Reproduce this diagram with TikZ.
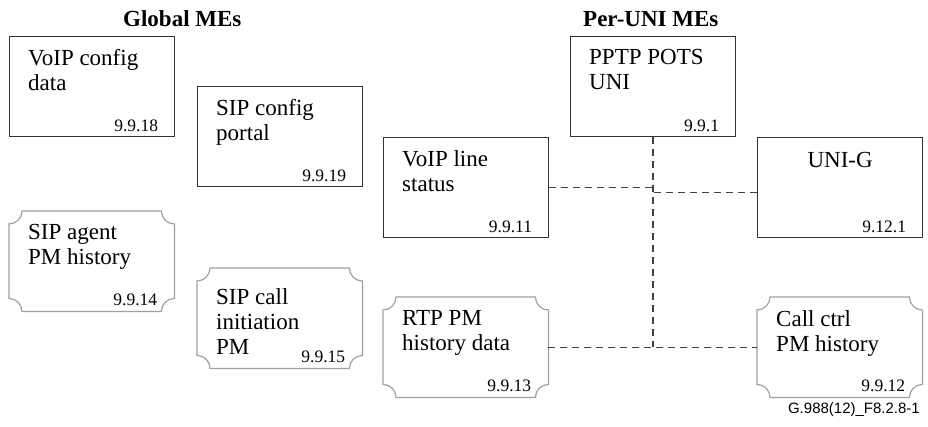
\documentclass[tikz,border=0pt]{standalone}
\usepackage{fontspec}
\setmainfont{Liberation Serif}
\newfontfamily\figfont{Liberation Sans}
\usetikzlibrary{calc}

\definecolor{boxline}{HTML}{333333}
\definecolor{pmline}{HTML}{A0A0A0}
\definecolor{linkline}{HTML}{404040}

\tikzset{
	mebox/.style={rectangle, draw=boxline, line width=1.2pt, anchor=north west,
		minimum width=165pt, minimum height=100pt, inner sep=0pt},
	pmbox/.style={rectangle, draw=none, anchor=north west,
		minimum width=165pt, minimum height=100pt, inner sep=0pt},
	metext/.style={anchor=north west, inner sep=0pt, align=left,
		font=\fontsize{23}{25}\selectfont},
	menum/.style={anchor=base east, inner sep=0pt, font=\fontsize{17.5}{20}\selectfont},
	metitle/.style={anchor=base west, inner sep=0pt, font=\fontsize{23}{26}\selectfont\bfseries},
	link/.style={draw=linkline, line width=1.3pt, dash pattern=on 7pt off 5pt}
}

% text and number inside a box
\newcommand{\melabel}[3]{%
	\node[metext] (#1-t) at ([shift={(19pt,-13pt)}]#1.north west) {#2};
	\node[menum] (#1-n) at ([shift={(-17pt,6pt)}]#1.south east) {#3};
}
% box with rounded-in corners
\newcommand{\pmoutline}[1]{%
	\draw[pmline, line width=1.2pt]
		([xshift=13pt]#1.north west) -- ([xshift=-13pt]#1.north east)
		arc[start angle=180, end angle=270, radius=13pt]
		-- ([yshift=13pt]#1.south east)
		arc[start angle=90, end angle=180, radius=13pt]
		-- ([xshift=13pt]#1.south west)
		arc[start angle=0, end angle=90, radius=13pt]
		-- ([yshift=-13pt]#1.north west)
		arc[start angle=270, end angle=360, radius=13pt] -- cycle;
}

\begin{document}
\begin{tikzpicture}[x=1pt, y=1pt]

	\useasboundingbox (0,0) rectangle (928,-426);

	\node[metitle] (global) at (123,-26) {Global MEs};
	\node[metitle] (peruni) at (583,-26) {Per-UNI MEs};

	% global MEs
	\node[mebox] (vcd) at (9,-36) {};
	\node[mebox] (scp) at (197,-86) {};
	\node[pmbox] (sap) at (9,-211) {};
	\node[pmbox] (sci) at (197,-268) {};

	% per-UNI MEs
	\node[mebox] (pptp) at (570,-36) {};
	\node[mebox] (vls) at (383,-137) {};
	\node[mebox] (unig) at (757,-137) {};
	\node[pmbox] (rtp) at (383,-297) {};
	\node[pmbox] (ccp) at (757,-297) {};

	\pmoutline{sap}
	\pmoutline{sci}
	\pmoutline{rtp}
	\pmoutline{ccp}

	\melabel{vcd}{VoIP config\\data}{9.9.18}
	\melabel{scp}{SIP config\\portal}{9.9.19}
	\melabel{sap}{SIP agent\\PM history}{9.9.14}
	\node[metext] (sci-t) at ([shift={(19pt,-20pt)}]sci.north west) {SIP call\\initiation\\PM};
	\node[menum] (sci-n) at ([shift={(-17pt,6pt)}]sci.south east) {9.9.15};
	\melabel{pptp}{PPTP POTS\\UNI}{9.9.1}
	\melabel{vls}{VoIP line\\status}{9.9.11}
	\node[metext, anchor=north] (unig-t) at ([yshift=-15pt]unig.north) {UNI-G};
	\node[menum] (unig-n) at ([shift={(-17pt,6pt)}]unig.south east) {9.12.1};
	\melabel{rtp}{RTP PM\\history data}{9.9.13}
	\melabel{ccp}{Call ctrl\\PM history}{9.9.12}

	% connectors
	\coordinate (bus) at (pptp.south |- rtp.east);
	\draw[link] (pptp.south) -- (bus);
	\draw[link] (vls.east) -- (vls.east -| pptp.south);
	\draw[link] ([yshift=-5pt]unig.west) -- ([yshift=-5pt]unig.west -| pptp.south);
	\draw[link] (rtp.east) -- (ccp.west);

	\node[anchor=base east, inner sep=0pt, font=\figfont\fontsize{15}{18}\selectfont] (figid) at (920,-413) {G.988(12)\_F8.2.8-1};

\end{tikzpicture}
\end{document}
